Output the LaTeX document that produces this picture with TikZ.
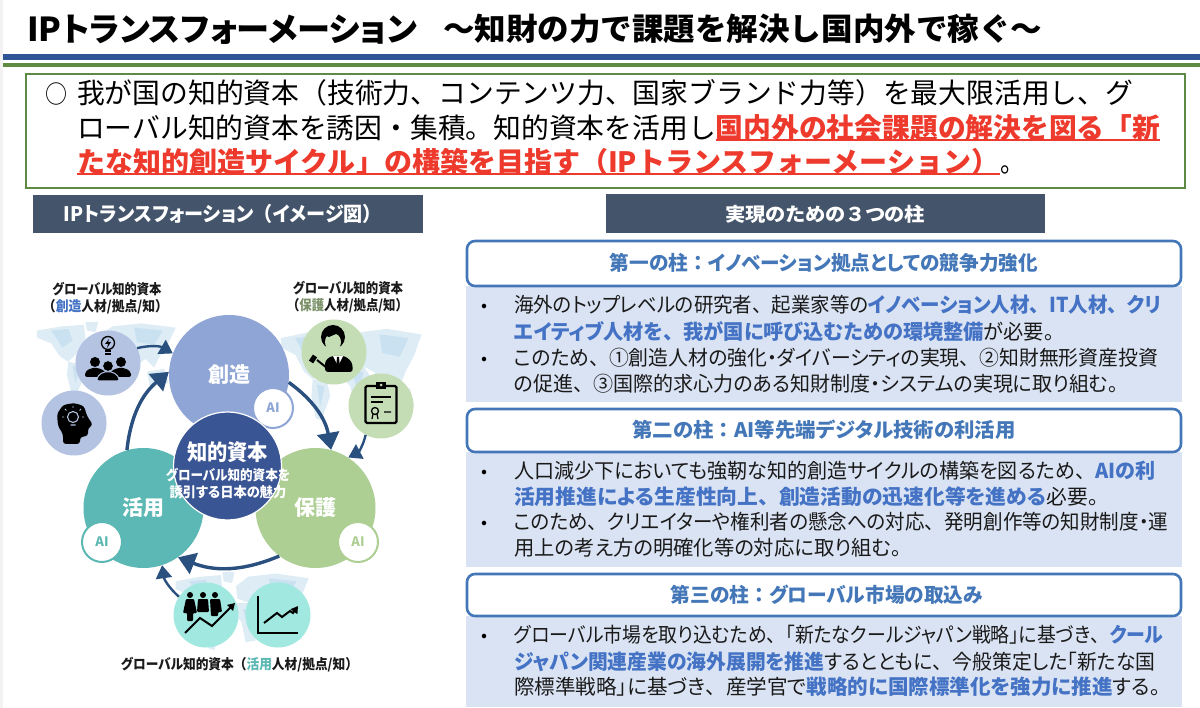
\documentclass[tikz,border=0pt]{standalone}
\usepackage{fontspec}
\usepackage{graphicx}
\usetikzlibrary{arrows.meta}
\setmainfont{Noto Sans CJK JP}[RawFeature=+palt]
\newfontfamily\fwfont{Noto Sans CJK JP}
\definecolor{navyb}{HTML}{2F5597}
\definecolor{greenb}{HTML}{5F8A42}
\definecolor{slateh}{HTML}{44546A}
\definecolor{redt}{HTML}{EE3A2C}
\definecolor{bluet}{HTML}{4472C4}
\definecolor{pillar}{HTML}{4477B8}
\definecolor{bodyfill}{HTML}{DAE3F3}
\definecolor{inkt}{HTML}{1A1A1A}
\definecolor{cyc}{HTML}{2A5080}
\definecolor{csou}{HTML}{8FA5D5}
\definecolor{ckat}{HTML}{5BB8B4}
\definecolor{chog}{HTML}{AECF94}
\definecolor{ccen}{HTML}{3A5593}
\definecolor{ssou}{HTML}{B4C3E2}
\definecolor{shog}{HTML}{C5DDB5}
\definecolor{skat}{HTML}{A0E8E0}
\definecolor{mapc}{HTML}{DDECF5}
\definecolor{mapd}{HTML}{C9E1F0}
\pgfdeclarelayer{bg}
\pgfsetlayers{bg,main}
\newcommand\fitw[2]{\resizebox{#1pt}{\height}{#2}}
% left-aligned line: name, x, centre y, size, width, text
\newcommand\tl[6]{\pgfmathsetmacro\bly{#3+0.38*#4}\node[anchor=base west,inner sep=0pt,font=\fontsize{#4}{#4}\selectfont] (#1) at (#2,\bly) {\fitw{#5}{#6}};}
% centred line
\newcommand\ct[6]{\pgfmathsetmacro\bly{#3+0.38*#4}\node[anchor=base,inner sep=0pt,font=\fontsize{#4}{#4}\selectfont] (#1) at (#2,\bly) {\fitw{#5}{#6}};}
\newcommand\hb[1]{\textcolor{bluet}{\bfseries #1}}
\newcommand\tn{{\fwfont 、}}
\newcommand\cl{{\fwfont ：}}
\newcommand\worldmap{%
 \fill[mapc] (2,6)--(20,3)--(35,2)--(36,12)--(30,22)--(24,28)--(18,24)--(12,15)--(2,11)--cycle;
 \fill[mapc] (36,0)--(45,0)--(43,7)--(37,6)--cycle;
 \fill[mapc] (24,28)--(34,30)--(36,37)--(30,50)--(26,49)--(23,37)--cycle;
 \fill[mapc] (46,9)--(55,3)--(75,1)--(99,4)--(94,15)--(88,24)--(84,32)--(78,26)--(72,30)--(66,24)--(56,20)--(47,17)--cycle;
 \fill[mapc] (45,20)--(58,20)--(65,28)--(60,44)--(53,45)--(50,32)--(44,27)--cycle;
 \fill[mapc] (79,35)--(91,33)--(94,43)--(81,45)--cycle;
 \fill[mapd] (12,6)--(24,5)--(27,13)--(20,18)--cycle;
 \fill[mapd] (70,4)--(90,6)--(84,16)--(72,14)--cycle;
 \fill[mapd] (27,31)--(32,32)--(29,43)--cycle;
 \fill[mapd] (51,24)--(59,24)--(56,37)--cycle;
}
\tikzset{
 bigc/.style={circle,inner sep=0pt,minimum size=120pt,text=white,font=\fontsize{21}{21}\selectfont\bfseries},
 smallc/.style={circle,inner sep=0pt,minimum size=65pt},
 badge/.style={circle,inner sep=0pt,minimum size=40pt,fill=white,line width=2pt,font=\fontsize{13}{13}\selectfont\bfseries},
 pillarbox/.style={draw=pillar,line width=2.6pt,rounded corners=8pt,fill=white},
 cyclearrow/.style={draw=cyc,line width=3.4pt,-{Triangle[length=17pt,width=22pt]}},
 feedarrow/.style={draw=cyc,line width=2.4pt,-{Triangle[length=13pt,width=16pt]}},
 stub/.style={draw=cyc,line width=2pt},
 rule/.style={line width=1.5pt,draw=redt},
}
\begin{document}
\begin{tikzpicture}[x=1pt,y=-1pt]
\useasboundingbox (0,0) rectangle (1200,708);
\fill[white] (0,0) rectangle (1200,708);
\fill[black!5] (0,0) rectangle (3,708);
% title
\tl{t1}{27}{29}{33}{390}{\bfseries\color{black}IPトランスフォーメーション}
\tl{t2}{443}{29}{31}{599}{\fwfont\bfseries ～知財の力で課題を解決し国内外で稼ぐ～}
\fill[navyb] (3,54) rectangle (1200,60);
\fill[greenb] (3,63) rectangle (1200,67);
% lead box
\draw[greenb,line width=2.8pt,fill=white] (26,74) rectangle (1185,188);
\tl{a0}{45}{94}{25}{22}{\fwfont ○}
\tl{a1}{77}{93}{28}{1056}{\fwfont 我が国の知的資本（技術力、コンテンツ力、国家ブランド力等）を最大限活用し、グ}
\tl{a2}{77}{128}{28}{1083}{\fwfont ローバル知的資本を誘因・集積。知的資本を活用し\textcolor{redt}{\bfseries 国内外の社会課題の解決を図る「新}}
\tl{a3}{77}{162}{28}{922}{\fwfont\textcolor{redt}{\bfseries たな知的創造サイクル」の構築を目指す（IPトランスフォーメーション）}}
\tl{a4}{1000}{162}{28}{24}{\fwfont 。}
\draw[rule] (716,140) -- (1160,140);
\draw[rule] (77,174) -- (1000,174);
% headers
\fill[slateh] (33,195) rectangle (423,233);
\ct{h1}{223}{214}{20}{318}{\textcolor{white}{\bfseries IPトランスフォーション{\fwfont （}イメージ図{\fwfont ）}}}
\fill[slateh] (606,194) rectangle (1045,233);
\ct{h2}{825}{214}{19}{200}{\textcolor{white}{\bfseries 実現のための{\fwfont ３}つの柱}}
% pillars
\fill[bodyfill] (466,286) rectangle (1182,402);
\fill[bodyfill] (466,452) rectangle (1182,567);
\fill[bodyfill] (466,616) rectangle (1182,707);
\draw[pillarbox] (467,241) rectangle (1181,286);
\draw[pillarbox] (467,409) rectangle (1181,452);
\draw[pillarbox] (467,574) rectangle (1181,616);
\ct{p1}{824}{263}{20}{428}{\textcolor{pillar}{\bfseries 第一の柱\cl イノベーション拠点としての競争力強化}}
\ct{p2}{824}{430}{20}{383}{\textcolor{pillar}{\bfseries 第二の柱\cl AI等先端デジタル技術の利活用}}
\ct{p3}{827}{595}{20}{312}{\textcolor{pillar}{\bfseries 第三の柱\cl グローバル市場の取込み}}
% body 1
\tl{b1a}{481}{305}{17}{6}{•}
\tl{b1b}{481}{358}{17}{6}{•}
\tl{b11}{514}{305}{20.5}{647}{\color{inkt}海外のトップレベルの研究者\tn 起業家等の\hb{イノベーション人材\tn IT人材\tn クリ}}
\tl{b12}{514}{332}{20.5}{540}{\color{inkt}\hb{エイティブ人材を\tn 我が国に呼び込むための環境整備}が必要。}
\tl{b13}{514}{358}{20.5}{644}{\color{inkt}このため\tn ①創造人材の強化・ダイバーシティの実現\tn ②知財無形資産投資}
\tl{b14}{514}{384}{20.5}{604}{\color{inkt}の促進\tn ③国際的求心力のある知財制度・システムの実現に取り組む。}
% body 2
\tl{b2a}{481}{471}{17}{6}{•}
\tl{b2b}{481}{522}{17}{6}{•}
\tl{b21}{514}{471}{20.5}{641}{\color{inkt}人口減少下においても強靭な知的創造サイクルの構築を図るため\tn\hb{AIの利}}
\tl{b22}{514}{497}{20.5}{584}{\color{inkt}\hb{活用推進による生産性向上\tn 創造活動の迅速化等を進める}必要。}
\tl{b23}{514}{522}{20.5}{654}{\color{inkt}このため\tn クリエイターや権利者の懸念への対応\tn 発明創作等の知財制度・運}
\tl{b24}{514}{548}{20.5}{387}{\color{inkt}用上の考え方の明確化等の対応に取り組む。}
% body 3
\tl{b3a}{481}{635}{17}{6}{•}
\tl{b31}{514}{635}{20.5}{649}{\color{inkt}グローバル市場を取り込むため\tn「新たなクールジャパン戦略」に基づき\tn\hb{クール}}
\tl{b32}{514}{662}{20.5}{641}{\color{inkt}\hb{ジャパン関連産業の海外展開を推進}するとともに\tn 今般策定した「新たな国}
\tl{b33}{514}{687}{20.5}{646}{\color{inkt}際標準戦略」に基づき\tn 産学官で\hb{戦略的に国際標準化を強力に推進}する。}
% maps
\begin{scope}[shift={(34,322)},xscale=1.43,yscale=1.42]\worldmap\end{scope}
\begin{scope}[shift={(278,327)},xscale=1.45,yscale=1.86]\worldmap\end{scope}
\begin{scope}[shift={(173,572)},xscale=1.37,yscale=1.56]\worldmap\end{scope}
% circles
\node[bigc,fill=csou] (sou) at (229,375) {創造};
\node[bigc,fill=ckat] (kat) at (143.5,508) {活用};
\node[bigc,fill=chog] (hog) at (315.5,508) {保護};
\node[badge,draw=csou,text=csou] (ai1) at (273,408) {AI};
\node[badge,draw=ckat,text=ckat] (ai2) at (102,542) {AI};
\node[badge,draw=chog,text=chog] (ai3) at (358,542) {AI};
\node[circle,inner sep=0pt,minimum size=108pt,fill=ccen,draw=white,line width=1.2pt] (cen) at (227.5,466) {};
\ct{c1}{227.5}{452}{22}{81}{\textcolor{white}{\bfseries 知的資本}}
\ct{c2}{228}{475}{14}{124}{\textcolor{white}{\bfseries グローバル知的資本を}}
\ct{c3}{228}{492}{14}{117}{\textcolor{white}{\bfseries 誘引する日本の魅力}}
\node[smallc,fill=ssou] (s1) at (108,363) {};
\node[smallc,fill=ssou] (s2) at (74,423) {};
\node[smallc,fill=shog] (s3) at (334,352) {};
\node[smallc,fill=shog] (s4) at (381,406) {};
\node[smallc,fill=skat] (s5) at (206,615) {};
\node[smallc,fill=skat] (s6) at (278,615) {};
% connectors
\begin{pgfonlayer}{bg}
\draw[stub] (s2) to[bend left=15] (s1);
\draw[stub] (s3) to[bend left=15] (s4);
\draw[stub] (s6) -- (s5);
\end{pgfonlayer}
\draw[cyclearrow] (sou.-7) to[bend left=22] (hog.75);
\draw[cyclearrow] (hog.-127) to[bend left=22] (kat.-55);
\draw[cyclearrow] (kat.106) to[bend left=22] (sou.177);
\draw[feedarrow] (s1.27) to[bend left=22] (sou.159);
\draw[feedarrow] (s4.-118) to[bend left=25] (hog.57);
\draw[feedarrow] (s5.146) to[bend left=20] (kat.-72);
% labels
\ct{l1}{107}{289}{14}{109}{\bfseries\color{inkt}グローバル知的資本}
\ct{l2}{105.5}{306}{14}{125}{\bfseries\color{inkt}{\fwfont （}\textcolor{bluet}{創造}人材/拠点/知{\fwfont ）}}
\ct{l3}{348}{288}{14}{110}{\bfseries\color{inkt}グローバル知的資本}
\ct{l4}{347.5}{305}{14}{121}{\bfseries\color{inkt}{\fwfont （}\textcolor{chog!70!black}{保護}人材/拠点/知{\fwfont ）}}
\ct{l5}{239.5}{664}{14}{237}{\bfseries\color{inkt}グローバル知的資本{\fwfont （}\textcolor{ckat}{活用}人材/拠点/知{\fwfont ）}}
% icon: people and bulb
\draw[black,line width=1.3pt] (108,343) circle[radius=6.5pt];
\draw[black,line width=1.3pt] (105,351) -- (111,351) (105,354) -- (111,354);
\fill[black] (109,339) -- (105,344) -- (108,344) -- (107,348) -- (111,342) -- (108,342) -- cycle;
\fill[black] (95,362) circle[radius=5pt] (121,362) circle[radius=5pt];
\fill[black,rounded corners=2pt] (85,377) -- (85,372) -- (91,368) -- (99,368) -- (106,372) -- (106,377) -- cycle;
\fill[black,rounded corners=2pt] (110,377) -- (110,372) -- (117,368) -- (125,368) -- (131,372) -- (131,377) -- cycle;
\fill[black,draw=ssou,line width=1pt] (108,366) circle[radius=5.5pt];
\fill[black,draw=ssou,line width=1pt,rounded corners=2pt] (97,381) -- (97,377) -- (103,372) -- (113,372) -- (119,377) -- (119,381) -- cycle;
% icon: head with bulb
\fill[black,rounded corners=3pt] (63,444) -- (63,434) -- (58,426) -- (57,414) -- (63,405) -- (74,403) -- (84,406) -- (87,416) -- (93,425) -- (88,428) -- (88,436) -- (80,437) -- (80,444) -- cycle;
\draw[ssou,line width=1.1pt] (73,417) circle[radius=5.5pt] (70.5,425) -- (75.5,425);
\draw[ssou,line width=.9pt] (73,408) -- (73,406) (64,417) -- (62,417) (82,417) -- (84,417) (66.5,410.5) -- (65,409) (79.5,410.5) -- (81,409);
% icon: lawyer
\fill[black] (333,337) circle[radius=12pt];
\fill[shog] (333,342) ellipse[x radius=8pt,y radius=9pt];
\fill[black] (324,335) -- (328,330) -- (340,330) -- (342,336) -- (336,334) -- (329,337) -- cycle;
\fill[black,rounded corners=3pt] (325,372) -- (325,361) -- (331,356) -- (345,356) -- (352,362) -- (353,372) -- cycle;
\fill[white] (333,356) -- (343,356) -- (338,366) -- cycle;
\fill[black] (337,357) -- (339,357) -- (340,368) -- (338,371) -- (336,368) -- cycle;
\draw[black,line width=2pt] (317,360) -- (327,368);
\draw[black,line width=5pt] (315,356) -- (311,362);
% icon: clipboard
\draw[black,line width=2.4pt,rounded corners=1.5pt] (365.5,386) rectangle (396.5,423);
\fill[black] (376,382) rectangle (386,389);
\fill[shog] (381,385) circle[radius=1.5pt];
\draw[black,line width=1.3pt] (371,397) -- (391,397) (371,402) -- (383,402);
\draw[black,line width=1.3pt] (375,411) circle[radius=3.5pt];
\draw[black,line width=1.2pt] (373,414) -- (372,419) (377,414) -- (378,419) (384,412) -- (391,412);
% icon: people with rising arrow
\fill[black] (190,595) circle[radius=3pt] (203,595) circle[radius=3pt] (215,595) circle[radius=3pt];
\fill[black,rounded corners=1pt] (186,599) -- (194,599) -- (197,613) -- (193,613) -- (193,621) -- (187,621) -- (187,613) -- (183,613) -- cycle;
\fill[black,rounded corners=1pt] (198,599) -- (208,599) -- (209,612) -- (197,612) -- cycle;
\fill[black,rounded corners=1pt] (210,599) -- (220,599) -- (222,612) -- (218,612) -- (218,616) -- (211,616) -- cycle;
\draw[skat,line width=4pt] (185,633) -- (200,618) -- (212,626) -- (230,607);
\draw[black,line width=2pt,-{Triangle[length=7pt,width=8pt]}] (185,633) -- (200,618) -- (212,626) -- (235,603);
% icon: chart
\draw[black,line width=2.4pt] (258,596) -- (258,633) -- (298,633);
\draw[black,line width=2pt,-{Triangle[length=7pt,width=8pt]}] (264,623) -- (277,613) -- (282,617) -- (290,611) -- (293,613) -- (298,606);
\end{tikzpicture}
\end{document}
